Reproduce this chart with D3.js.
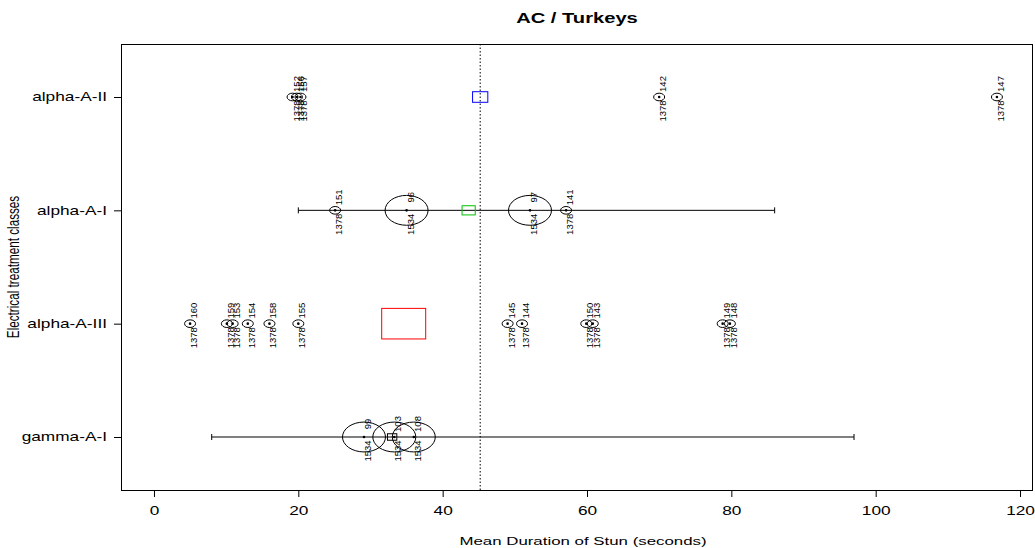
<!DOCTYPE html>
<html><head><meta charset="utf-8">
<script src="https://cdn.jsdelivr.net/npm/d3@7"></script>
<style>body{margin:0;background:#fff}svg{display:block}text{font-family:"Liberation Sans",Arial,sans-serif}</style>
</head><body><svg id="c" width="1035" height="548"></svg>
<script>
// ---- data ----
const categories = ["alpha-A-II", "alpha-A-I", "alpha-A-III", "gamma-A-I"];
const xTicks = [0, 20, 40, 60, 80, 100, 120];
// individual study points
const pointCategory = ["alpha-A-II","alpha-A-II","alpha-A-II","alpha-A-II","alpha-A-II",
  "alpha-A-I","alpha-A-I","alpha-A-I","alpha-A-I",
  "alpha-A-III","alpha-A-III","alpha-A-III","alpha-A-III","alpha-A-III","alpha-A-III",
  "alpha-A-III","alpha-A-III","alpha-A-III","alpha-A-III","alpha-A-III","alpha-A-III",
  "gamma-A-I","gamma-A-I","gamma-A-I"];
const pointValue = [19.2, 19.8, 20.3, 70.0, 116.8,
  25.1, 35.0, 52.1, 57.1,
  5.0, 10.1, 10.9, 13.0, 16.0, 20.0,
  49.0, 51.0, 59.9, 60.8, 78.8, 79.8,
  29.1, 33.3, 36.0];
const pointId = ["152","156","157","142","147",
  "151","96","97","141",
  "160","159","153","154","158","155",
  "145","144","150","143","149","148",
  "99","103","108"];
const pointGroup = ["1378","1378","1378","1378","1378",
  "1378","1534","1534","1378",
  "1378","1378","1378","1378","1378","1378",
  "1378","1378","1378","1378","1378","1378",
  "1534","1534","1534"];
// summary per class
const summaryValue = [45.2, 43.6, 34.6, 33.0];
const summaryWeight = [0.12, 0.09, 1.0, 0.045];
const summaryColor = ["#0000ff", "#00c000", "#ff0000", "#000000"];
// range lines
const rangeCategory = ["alpha-A-I", "gamma-A-I"];
const rangeLow = [20.0, 8.0];
const rangeHigh = [86.0, 97.0];
const overallMean = 45.2;

// ---- layout ----
const SX = 1.44; // horizontal stretch of the original device
const FONT = '"Liberation Sans",Arial,sans-serif';
const svg = d3.select("#c");
const L = 121, R = 1032, T = 44, B = 490;
const x = d3.scaleLinear().domain([-4.57, 121.66]).range([L, R]);
const y = d3.scalePoint().domain(categories).range([97, 437]);
const sq = d3.scaleSqrt().domain([0, 1]).range([0, 44]);
const circR = d3.scaleOrdinal().domain(["1378", "1534"]).range([5.5, 21.5]);

function stext(px, py, str, size, opts = {}) {
  const sx = opts.sx || SX;
  const t = svg.append("text")
    .attr("transform", `translate(${px},${py}) scale(${sx},1)` + (opts.rot ? " rotate(-90)" : ""))
    .attr("text-anchor", opts.anchor || "middle").attr("font-size", size).text(str);
  if (opts.bold) t.attr("font-weight", "bold");
  if (opts.dy) t.attr("dy", opts.dy);
  return t;
}

// title
stext(577, 23, "AC / Turkeys", 14, { bold: true });

// box
svg.append("rect").attr("x", L).attr("y", T).attr("width", R - L).attr("height", B - T)
  .attr("fill", "none").attr("stroke", "#000").attr("stroke-width", 1).attr("shape-rendering", "crispEdges");

// x axis
const xa = svg.append("g").attr("transform", `translate(0,${B})`)
  .call(d3.axisBottom(x).tickValues(xTicks).tickSize(7).tickPadding(9).tickFormat(d3.format("d")));
xa.select(".domain").remove();
xa.selectAll("text").attr("font-size", 12).attr("font-family", FONT).attr("transform", `scale(${SX},1)`);
// y axis
const ya = svg.append("g").attr("transform", `translate(${L},0)`)
  .call(d3.axisLeft(y).tickSize(7).tickPadding(6));
ya.select(".domain").remove();
ya.selectAll("text").attr("font-size", 12).attr("font-family", FONT)
  .attr("x", -14 / SX).attr("transform", `scale(${SX},1)`);

// axis titles
stext(583, 545, "Mean Duration of Stun (seconds)", 11.7);
stext(19, (T + B) / 2, "Electrical treatment classes", 11.7, { rot: true });

// dotted overall line
svg.append("line").attr("x1", x(overallMean)).attr("x2", x(overallMean)).attr("y1", T).attr("y2", B)
  .attr("stroke", "#000").attr("stroke-dasharray", "1.5,2");

// range lines
const rg = svg.append("g");
rangeCategory.forEach((c, i) => {
  const yy = y(c);
  rg.append("line").attr("x1", x(rangeLow[i])).attr("x2", x(rangeHigh[i])).attr("y1", yy).attr("y2", yy).attr("stroke", "#000");
  [rangeLow[i], rangeHigh[i]].forEach(v => rg.append("line").attr("x1", x(v)).attr("x2", x(v))
    .attr("y1", yy - 3).attr("y2", yy + 3).attr("stroke", "#000"));
});

// summary squares
categories.forEach((c, i) => {
  const w = sq(summaryWeight[i]), h = w / SX;
  svg.append("rect").attr("x", x(summaryValue[i]) - w / 2).attr("y", y(c) - h / 2)
    .attr("width", w).attr("height", h).attr("fill", "none").attr("stroke", summaryColor[i]);
});

// points
const pts = pointValue.map((v, i) => ({ v, c: pointCategory[i], id: pointId[i], g: pointGroup[i] }));
pts.forEach(p => {
  const cx = x(p.v), cy = y(p.c), r = circR(p.g);
  svg.append("ellipse").attr("cx", cx).attr("cy", cy).attr("rx", r).attr("ry", r / SX)
    .attr("fill", "none").attr("stroke", "#000");
  svg.append("circle").attr("cx", cx).attr("cy", cy).attr("r", 1.3).attr("fill", "#000");
  stext(cx + 3.5, cy - 13, p.id, 9.5, { rot: true, dy: "0.35em", sx: 1.05 });
  stext(cx + 3.5, cy + 14, p.g, 9.5, { rot: true, dy: "0.35em", sx: 1.05 });
});
</script></body></html>
